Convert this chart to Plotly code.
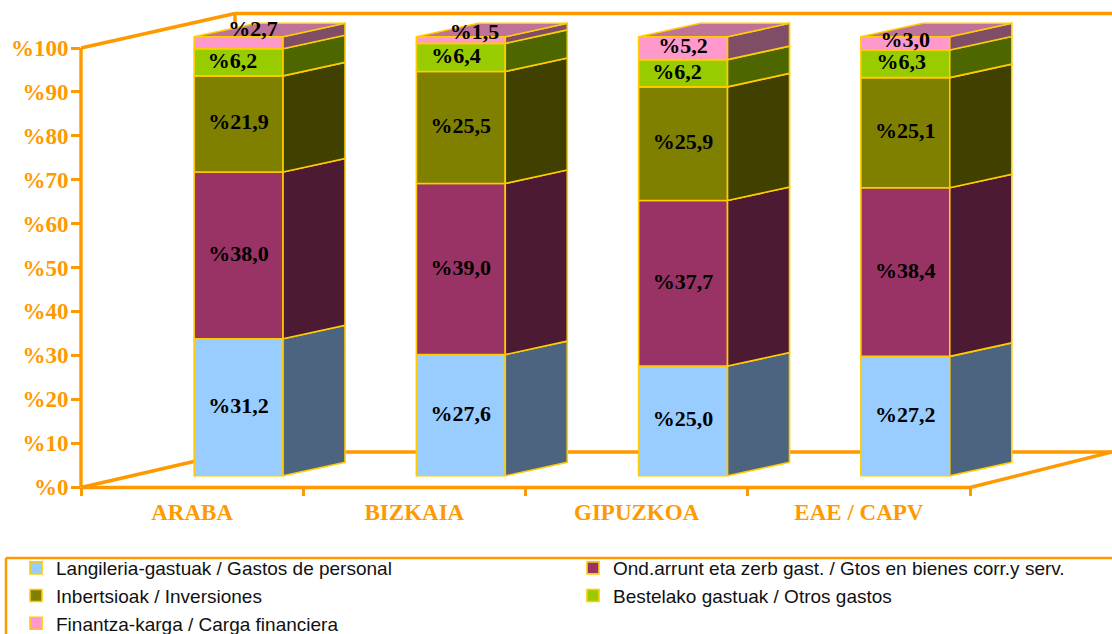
import plotly.graph_objects as go

# ---------- data ----------
categories = ["ARABA", "BIZKAIA", "GIPUZKOA", "EAE / CAPV"]
series_names = [
    "Langileria-gastuak / Gastos de personal",
    "Ond.arrunt eta zerb gast. / Gtos en bienes corr.y serv.",
    "Inbertsioak / Inversiones",
    "Bestelako gastuak / Otros gastos",
    "Finantza-karga / Carga financiera",
]
personal = [31.2, 27.6, 25.0, 27.2]
bienes = [38.0, 39.0, 37.7, 38.4]
inversiones = [21.9, 25.5, 25.9, 25.1]
otros = [6.2, 6.4, 6.2, 6.3]
financiera = [2.7, 1.5, 5.2, 3.0]
series_values = [personal, bienes, inversiones, otros, financiera]
y_ticks = list(range(0, 101, 10))
y_tick_labels = ["%" + str(t) for t in y_ticks]

# ---------- style ----------
front_colors = ["#99CCFF", "#993366", "#808000", "#99CC00", "#FF99CC"]
side_colors = ["#4D6480", "#4D1A33", "#404000", "#4D6600", "#804D66"]
top_color = "#BF7399"
edge = "#FFCC00"
frame = "#FF9900"

W, H = 1112, 634
PLOT_L, PLOT_B = 81, 487
CAT_PX = 222.25
PCT_PX = 4.39
BAR_SHIFT = 0.209      # bar centre relative to its category, in category units
BAR_WIDTH = 0.40
BAR_LIFT = 2.55        # the bars stand on the floor, above the front edge
DEPTH_X = 62 / CAT_PX
DEPTH_Y = 13.5 / PCT_PX
XMAX = (W - PLOT_L) / CAT_PX - 0.5

# label nudges (x in category units, y in percent units) for the crowded top segments
nudge_x = {3: [-0.027, -0.022, -0.027, -0.018], 4: [0.065, 0.062, 0.0, 0.0]}
nudge_y = {4: [2.7, 1.4, 0.2, 0.5]}

fig = go.Figure()
xpos = [i + BAR_SHIFT for i in range(len(categories))]

bases = [BAR_LIFT] * len(categories)
label_x, label_y, label_t = [], [], []
top_x, top_y = [], []
for s, vals in enumerate(series_values):
    fig.add_trace(go.Bar(
        x=xpos, y=vals, base=list(bases), width=BAR_WIDTH, name=series_names[s],
        marker=dict(color=front_colors[s], line=dict(color=edge, width=1.6)),
        hoverinfo="skip",
    ))
    sx, sy = [], []
    for i, v in enumerate(vals):
        b = bases[i]
        r = xpos[i] + BAR_WIDTH / 2
        sx += [r, r + DEPTH_X, r + DEPTH_X, r, r, None]
        sy += [b, b + DEPTH_Y, b + v + DEPTH_Y, b + v, b, None]
        label_x.append(xpos[i] + nudge_x.get(s, [0] * 4)[i])
        label_y.append(b + v / 2 + nudge_y.get(s, [0] * 4)[i])
        label_t.append("%" + f"{v:.1f}".replace(".", ","))
        bases[i] = b + v
    fig.add_trace(go.Scatter(
        x=sx, y=sy, mode="lines", fill="toself", fillcolor=side_colors[s],
        line=dict(color=edge, width=1.6), showlegend=False, hoverinfo="skip",
    ))

for i, t in enumerate(bases):
    l = xpos[i] - BAR_WIDTH / 2
    r = xpos[i] + BAR_WIDTH / 2
    top_x += [l, l + DEPTH_X, r + DEPTH_X, r, l, None]
    top_y += [t, t + DEPTH_Y, t + DEPTH_Y, t, t, None]
fig.add_trace(go.Scatter(
    x=top_x, y=top_y, mode="lines", fill="toself", fillcolor=top_color,
    line=dict(color=edge, width=1.6), showlegend=False, hoverinfo="skip",
))
fig.add_trace(go.Scatter(
    x=label_x, y=label_y, text=label_t, mode="text", textposition="middle center",
    textfont=dict(family="Liberation Serif", size=22, color="black", weight="bold"),
    showlegend=False, hoverinfo="skip",
))


def px(x):
    return x / W


def py(y):
    return (H - y) / H


def seg(x0, y0, x1, y1, width=3.4):
    return dict(type="line", xref="paper", yref="paper", layer="below",
                x0=px(x0), y0=py(y0), x1=px(x1), y1=py(y1),
                line=dict(color=frame, width=width))


shapes = [
    seg(81, 487.5, 81, 48), seg(81, 48, 235, 13.5), seg(235, 13.5, 1112, 13.5),
    seg(235, 13.5, 235, 24), seg(81, 487.5, 235, 452), seg(235, 452, 1112, 452),
    seg(81, 487.5, 970, 487.5), seg(970, 487.5, 1112, 452),
    seg(6, 558, 1112, 558, 2.5), seg(6, 558, 6, 640, 2.5),
]

axis_font = dict(family="Liberation Serif", size=23, color=frame, weight="bold")

fig.update_layout(
    width=W, height=H, autosize=False,
    margin=dict(l=0, r=0, t=0, b=0, pad=0, autoexpand=False),
    paper_bgcolor="white", plot_bgcolor="white",
    barmode="overlay", shapes=shapes, showlegend=True,
    xaxis=dict(
        domain=[PLOT_L / W, 1],
        range=[-0.5, XMAX], tickmode="array", tickvals=list(range(4)), ticktext=categories,
        ticks="", showgrid=False, zeroline=False, showline=False, ticklabelstandoff=9,
        tickfont=axis_font,
        minor=dict(tickmode="array", tickvals=[-0.5, 0.5, 1.5, 2.5, 3.5], ticks="outside",
                   ticklen=8, tickwidth=3, tickcolor=frame, showgrid=False),
    ),
    yaxis=dict(
        domain=[(H - PLOT_B) / H, 1],
        range=[0, PLOT_B / PCT_PX], tickmode="array", tickvals=y_ticks, ticktext=y_tick_labels,
        ticks="outside", ticklen=9, tickwidth=3, tickcolor=frame, ticklabelstandoff=-2,
        showgrid=False, zeroline=False, showline=False,
        tickfont=axis_font,
    ),
    legend=dict(
        orientation="h", x=px(16), xanchor="left", y=py(549), yanchor="top",
        entrywidth=512, entrywidthmode="pixels", traceorder="normal",
        font=dict(family="Liberation Sans", size=19, color="#111111"),
        bgcolor="rgba(0,0,0,0)",
    ),
)

fig.write_html("out.html", config=dict(displayModeBar=False),
               post_script="document.body.style.margin='0';")
